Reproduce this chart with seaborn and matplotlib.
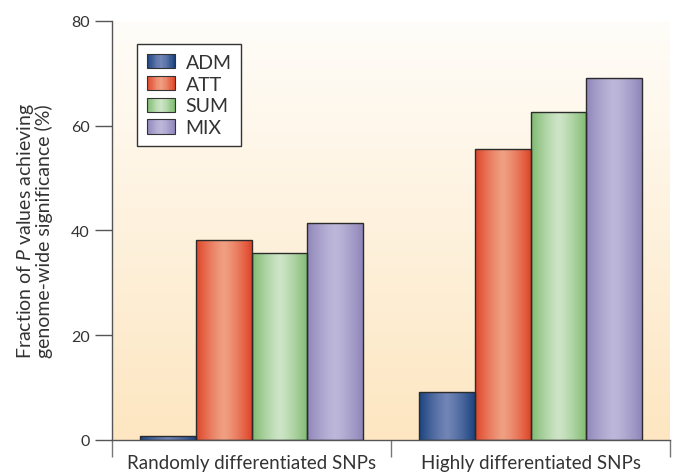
import numpy as np
import pandas as pd
import matplotlib
matplotlib.use('Agg')
import matplotlib.pyplot as plt
import seaborn as sns
from matplotlib.colors import to_rgb
from matplotlib.patches import Patch, Rectangle
from matplotlib.legend_handler import HandlerBase

# values
groups = ['Randomly differentiated SNPs', 'Highly differentiated SNPs']
methods = ['ADM', 'ATT', 'SUM', 'MIX']
adm = [0.8, 9.2]
att = [38.2, 55.5]
sum_vals = [35.7, 62.6]
mix = [41.4, 69.1]

edge_cols = ['#1b427f', '#df4428', '#7fba70', '#8f86ba']
light_cols = ['#7185b6', '#f09f82', '#cde5c6', '#bdb8da']
mid_cols = ['#3a5a96', '#e8705a', '#a5d09a', '#a69fcb']

df = pd.DataFrame({
    'group': groups * 4,
    'method': np.repeat(methods, 2),
    'value': adm + att + sum_vals + mix,
})


def shade(ec, lc, n):
    # edge -> light centre -> edge
    t = np.abs(np.linspace(-1, 1, n)) ** 1.3
    e, l = np.array(to_rgb(ec)), np.array(to_rgb(lc))
    return l[None, :] * (1 - t[:, None]) + e[None, :] * t[:, None]


class GradHandler(HandlerBase):
    def __init__(self, ec, lc):
        super().__init__()
        self.ec, self.lc = ec, lc

    def create_artists(self, legend, orig_handle, xdescent, ydescent,
                       width, height, fontsize, trans):
        n = 24
        cols = shade(self.ec, self.lc, n)
        arts = []
        for i in range(n):
            arts.append(Rectangle((-xdescent + i * width / n, -ydescent),
                                  width / n + 0.4, height, facecolor=cols[i],
                                  edgecolor='none', transform=trans))
        arts.append(Rectangle((-xdescent, -ydescent), width, height,
                              facecolor='none', edgecolor='#333333',
                              linewidth=0.8, transform=trans))
        return arts


sns.set_style('ticks')
plt.rcParams['font.family'] = ['Lato', 'DejaVu Sans']
plt.rcParams['mathtext.fontset'] = 'custom'
plt.rcParams['mathtext.it'] = 'Lato:italic'
plt.rcParams['mathtext.rm'] = 'Lato'
text_col = '#333333'

fig, ax = plt.subplots(figsize=(6.78, 4.77), dpi=100)
fig.subplots_adjust(left=0.1652, right=0.9882, bottom=0.0755, top=0.9539)

sns.barplot(data=df, x='group', y='value', hue='method', hue_order=methods,
            palette=mid_cols, width=0.8, edgecolor='#2b2b2b', linewidth=1.0,
            ax=ax, legend=False)

# horizontal shading inside each bar
for cont, ec, lc in zip(ax.containers, edge_cols, light_cols):
    img = shade(ec, lc, 200)[None, :, :]
    for bar in cont:
        x0, w = bar.get_x(), bar.get_width()
        h = bar.get_height()
        bar.set_facecolor('none')
        bar.set_zorder(3)
        im = ax.imshow(img, extent=(x0, x0 + w, 0, h), aspect='auto',
                       zorder=2, interpolation='bilinear')
        im.set_clip_path(bar)

# background: white at top to peach at bottom
top, bot = np.array(to_rgb('#fffdf9')), np.array(to_rgb('#fde6c1'))
s = np.linspace(0, 1, 256)[:, None]
bg = (bot * (1 - s) + top * s)[:, None, :]
ax.imshow(bg, extent=(-0.5, 1.5, 0, 80), aspect='auto', origin='lower',
          zorder=0, interpolation='bilinear')

ax.set_xlim(-0.5, 1.5)
ax.set_ylim(0, 80)
ax.set_yticks([0, 20, 40, 60, 80])
ax.set_xticks([0, 1])
ax.set_xticklabels(groups)
ax.set_xticks([-0.5, 0.5, 1.5], minor=True)
ax.tick_params(axis='x', which='major', length=0, pad=10, labelsize=13.5,
               labelcolor=text_col)
ax.tick_params(axis='x', which='minor', length=12, width=1, color='#777777')
ax.tick_params(axis='y', length=12, width=1, color='#555555', pad=4,
               labelsize=11.5, labelcolor=text_col)
ax.set_xlabel('')
ax.set_ylabel('Fraction of $P$ values achieving\ngenome-wide significance (%)',
              fontsize=14, color=text_col, labelpad=13, linespacing=0.95)

sns.despine(ax=ax)
for sp in ['left', 'bottom']:
    ax.spines[sp].set_color('#555555')
    ax.spines[sp].set_linewidth(1)

handles = [Patch(facecolor=c) for c in mid_cols]
hmap = {h: GradHandler(ec, lc) for h, ec, lc in zip(handles, edge_cols, light_cols)}
leg = ax.legend(handles, methods, handler_map=hmap, loc='upper left',
                bbox_to_anchor=(0.045, 0.945), borderaxespad=0,
                fancybox=False, edgecolor='#333333', framealpha=1, fontsize=14,
                handlelength=1.45, handleheight=0.75, labelspacing=0.25,
                borderpad=0.5, handletextpad=0.55)
leg.get_frame().set_linewidth(1)
for txt in leg.get_texts():
    txt.set_color(text_col)

fig.savefig('out.png', dpi=100)
